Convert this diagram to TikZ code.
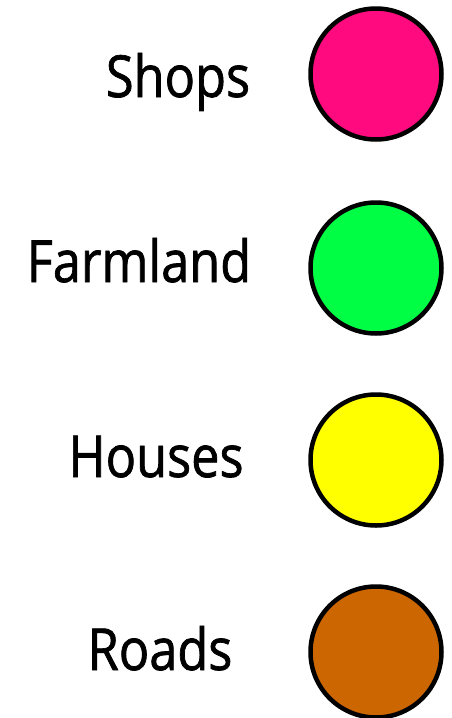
\documentclass[tikz,border=0pt]{standalone}
\usepackage{fontspec}
\setmainfont[FakeStretch=0.87,FakeBold=1.2]{Open Sans}
\definecolor{shopspink}{HTML}{FF0A7F}
\definecolor{farmgreen}{HTML}{00FF44}
\definecolor{houseyellow}{HTML}{FFFF00}
\definecolor{roadbrown}{HTML}{CC6600}
\begin{document}
\begin{tikzpicture}[x=1pt,y=-1pt,
		dot/.style={circle,draw=black,line width=4.5pt,minimum size=131pt,inner sep=0pt},
		word/.style={anchor=base,font=\fontsize{58}{60}\selectfont}]
		% Fixing the page to the size of the picture
		\useasboundingbox (0,0) rectangle (452,718);
		% Drawing the coloured dots of the key
		\node[dot,fill=shopspink] (Shops Dot) at (376,74) {};
		\node[dot,fill=farmgreen] (Farmland Dot) at (376,268) {};
		\node[dot,fill=houseyellow] (Houses Dot) at (376,460) {};
		\node[dot,fill=roadbrown] (Roads Dot) at (376,652) {};
		% Writing the names beside the dots
		\node[word] (Shops) at (178,97) {Shops};
		\node[word] (Farmland) at (139,282) {Farmland};
		\node[word] (Houses) at (156,477) {Houses};
		\node[word] (Roads) at (160,670) {Roads};
	\end{tikzpicture}
\end{document}
